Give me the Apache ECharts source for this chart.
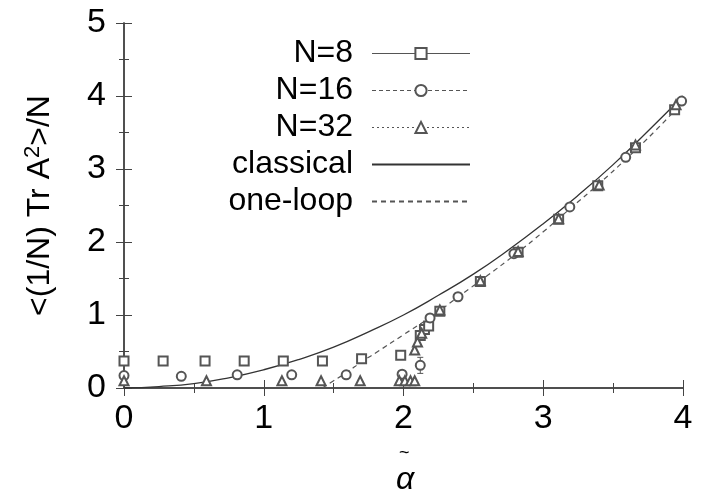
<!DOCTYPE html>
<html>
<head>
<meta charset="UTF-8">
<title>ECharts</title>
<script type="text/javascript" src="https://cdn.jsdelivr.net/npm/echarts@6/dist/echarts.min.js"></script>
<style>
  html, body { margin: 0; padding: 0; background: #fff; }
</style>
</head>
<body>
<div id="main" style="width: 702px;height:501px;"></div>
<script type="text/javascript">
// data
var n8 = [[0, 0.37], [0.28, 0.37], [0.58, 0.37], [0.86, 0.37], [1.14, 0.37], [1.42, 0.37],
  [1.7, 0.40], [1.98, 0.45], [2.12, 0.72], [2.15, 0.80], [2.18, 0.85], [2.26, 1.05],
  [2.55, 1.46], [2.82, 1.86], [3.11, 2.31], [3.39, 2.77], [3.66, 3.29], [3.94, 3.81]];
var n16 = [[0, 0.17], [0.41, 0.16], [0.81, 0.18], [1.2, 0.18], [1.59, 0.18], [1.99, 0.19],
  [2.12, 0.31], [2.19, 0.96], [2.39, 1.25], [2.79, 1.84], [3.19, 2.48], [3.59, 3.16], [3.99, 3.93]];
var n16Err = [[2.12, 0.20, 0.42]];
var n32 = [[0, 0.10], [0.59, 0.10], [1.13, 0.10], [1.41, 0.10], [1.69, 0.10],
  [1.97, 0.10], [2.01, 0.10], [2.05, 0.10], [2.08, 0.10], [2.08, 0.52], [2.10, 0.63],
  [2.13, 0.75], [2.26, 1.07], [2.55, 1.47], [2.82, 1.87], [3.11, 2.32], [3.4, 2.78],
  [3.66, 3.33], [3.95, 3.88]];
var classical = [[0, 0], [0.25, 0.02], [0.5, 0.06], [0.75, 0.14], [1, 0.25], [1.25, 0.39],
  [1.5, 0.56], [1.75, 0.77], [2, 1.0], [2.25, 1.27], [2.5, 1.56], [2.75, 1.89], [3, 2.25],
  [3.25, 2.64], [3.5, 3.06], [3.75, 3.52], [4, 4.0]];
var oneLoop = [[1.42, 0], [1.5, 0.10], [1.6, 0.22], [1.7, 0.36], [1.8, 0.48], [2.0, 0.73],
  [2.2, 0.98], [2.4, 1.26], [2.6, 1.54], [2.8, 1.83], [3.0, 2.14], [3.2, 2.47],
  [3.4, 2.8], [3.6, 3.15], [3.8, 3.52], [4.0, 3.92]];

var ink = '#555';
var font = 'Liberation Sans, Arial, sans-serif';

function axisBase(show) {
  return {
    type: 'value',
    interval: 1,
    axisLine: { show: true, lineStyle: { color: '#444', width: 1.5 } },
    axisTick: { show: true, inside: true, length: 8, lineStyle: { color: '#444' } },
    minorTick: { show: true, splitNumber: 2, length: 5, lineStyle: { color: '#444' } },
    splitLine: { show: false },
    axisLabel: { show: show, fontSize: 34, color: '#000', fontFamily: font }
  };
}

var myChart = echarts.init(document.getElementById('main'));

var xBottom = axisBase(true);
xBottom.min = 0; xBottom.max = 4; xBottom.position = 'bottom';
xBottom.axisLabel.margin = 14;
var xTop = axisBase(false);
xTop.min = 0; xTop.max = 4; xTop.position = 'top';
var yLeft = axisBase(true);
yLeft.min = 0; yLeft.max = 5; yLeft.position = 'left';
yLeft.axisLabel.margin = 18;
yLeft.name = '<(1/N) Tr A{sup|2}>/N';
yLeft.nameLocation = 'middle';
yLeft.nameRotate = 90;
yLeft.nameGap = 66;
yLeft.nameTextStyle = {
  fontSize: 32, color: '#000', fontFamily: font,
  rich: { sup: { fontSize: 22, verticalAlign: 'top', padding: [0, 0, 14, 0], fontFamily: font, color: '#000' } }
};
var yRight = axisBase(false);
yRight.min = 0; yRight.max = 5; yRight.position = 'right';

var hidden = { width: 1, opacity: 0 };
var noMark = { opacity: 0 };

myChart.setOption({
  animation: false,
  backgroundColor: '#fff',
  grid: { left: 124, right: 19, top: 23, bottom: 113, containLabel: false },
  xAxis: [xBottom, xTop],
  yAxis: [yLeft, yRight],
  legend: {
    orient: 'vertical',
    align: 'right',
    left: 168,
    top: 30,
    itemWidth: 98,
    itemHeight: 14,
    itemGap: 0,
    selectedMode: false,
    textStyle: {
      fontSize: 32, color: '#000', fontFamily: font, lineHeight: 37,
      width: 180, align: 'right', padding: [0, 14, 0, 0]
    },
    data: [
      { name: 'N=8', lineStyle: { width: 1, opacity: 1, color: ink, type: 'solid' } },
      { name: 'N=16', lineStyle: { width: 1, opacity: 1, color: ink, type: [4, 3] } },
      { name: 'N=32', lineStyle: { width: 1, opacity: 1, color: ink, type: [2, 3] } },
      { name: 'classical', itemStyle: noMark },
      { name: 'one-loop', itemStyle: noMark }
    ]
  },
  graphic: [
    { type: 'text', left: 399, top: 444, style: { text: '~', fontSize: 18, fill: '#000', fontFamily: font } },
    { type: 'text', left: 396, top: 464, style: { text: 'α', fontSize: 32, fontStyle: 'italic', fill: '#000', fontFamily: font } }
  ],
  series: [
    {
      name: 'N=8', type: 'line', data: n8, symbol: 'emptyRect', symbolSize: 9,
      lineStyle: hidden, itemStyle: { color: ink, borderWidth: 1 }, z: 5
    },
    {
      name: 'N=16', type: 'line', data: n16, symbol: 'emptyCircle', symbolSize: 9,
      lineStyle: hidden, itemStyle: { color: ink, borderWidth: 1 }, z: 5
    },
    {
      name: 'N=32', type: 'line', data: n32, symbol: 'emptyTriangle', symbolSize: 9,
      lineStyle: hidden, itemStyle: { color: ink, borderWidth: 1 }, z: 5
    },
    {
      name: 'classical', type: 'line', data: classical, smooth: true, showSymbol: false, symbol: 'none',
      lineStyle: { color: '#333', width: 1.3 }, itemStyle: { color: '#333' }
    },
    {
      name: 'one-loop', type: 'line', data: oneLoop, smooth: true, showSymbol: false, symbol: 'none',
      lineStyle: { color: ink, width: 1.2, type: [5, 4] }, itemStyle: { color: ink }
    },
    {
      // error bar on the N=16 point
      type: 'custom', data: n16Err, z: 4,
      renderItem: function (params, api) {
        var lo = api.coord([api.value(0), api.value(1)]);
        var hi = api.coord([api.value(0), api.value(2)]);
        var s = { stroke: ink, lineWidth: 1 };
        return {
          type: 'group', children: [
            { type: 'line', shape: { x1: lo[0], y1: lo[1], x2: hi[0], y2: hi[1] }, style: s },
            { type: 'line', shape: { x1: lo[0] - 3, y1: lo[1], x2: lo[0] + 3, y2: lo[1] }, style: s },
            { type: 'line', shape: { x1: hi[0] - 3, y1: hi[1], x2: hi[0] + 3, y2: hi[1] }, style: s }
          ]
        };
      }
    }
  ]
});
</script>
</body>
</html>
